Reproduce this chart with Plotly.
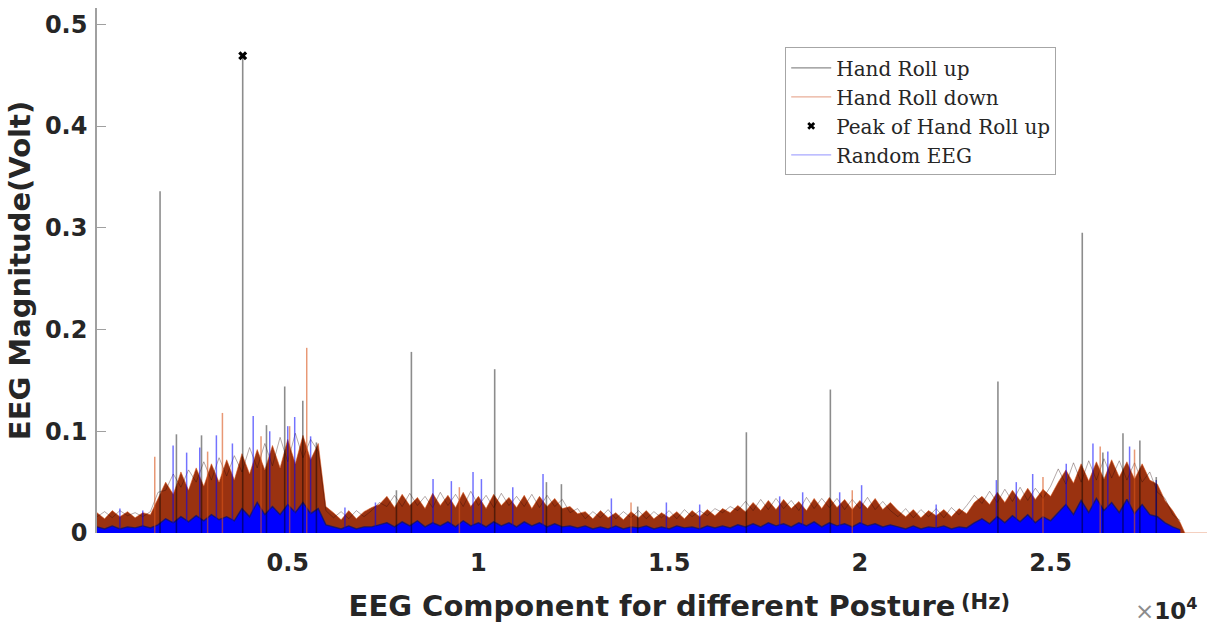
import plotly.graph_objects as go

# ---------------- data ----------------
# frequency grid of the dense spectra (Hz)
freq_hz = list(range(0, 28600, 200))

# Hand Roll down: upper envelope of the dense spectrum (Volt)
roll_down_top = [
    0.020, 0.014, 0.022, 0.016, 0.021, 0.015, 0.020, 0.018,
    0.034,
    0.050, 0.038, 0.060, 0.042,
    0.064, 0.046, 0.068, 0.050, 0.072, 0.052,
    0.078, 0.058, 0.082, 0.062, 0.086,
    0.064, 0.092, 0.068, 0.096, 0.072,
    0.088,
    0.026,
    0.020, 0.013, 0.022, 0.014, 0.021,
    0.025, 0.028,
    0.036, 0.025, 0.038, 0.027, 0.035, 0.024, 0.039, 0.027, 0.037, 0.025, 0.040, 0.026,
    0.036, 0.024, 0.038, 0.027, 0.035, 0.025, 0.037, 0.024, 0.036, 0.026, 0.034, 0.024,
    0.026, 0.019,
    0.021, 0.014, 0.022, 0.015, 0.020, 0.013, 0.021, 0.015, 0.022, 0.014, 0.020, 0.015,
    0.021, 0.014, 0.022, 0.016, 0.023, 0.017,
    0.024, 0.020, 0.027,
    0.021, 0.030, 0.022, 0.032, 0.023, 0.033, 0.024, 0.031, 0.022, 0.034,
    0.024, 0.035, 0.025, 0.033, 0.023, 0.032, 0.024, 0.034, 0.023, 0.030,
    0.022, 0.016, 0.023, 0.015, 0.022, 0.017, 0.023, 0.016, 0.024, 0.019,
    0.030, 0.036, 0.028, 0.040, 0.030, 0.042, 0.032, 0.044, 0.033, 0.043, 0.036,
    0.050, 0.062, 0.049, 0.068, 0.051, 0.070, 0.053, 0.072, 0.055, 0.070, 0.053, 0.068, 0.052,
    0.048, 0.032, 0.022, 0.010,
]
roll_down_tail_hz = [28520, 29100]
roll_down_tail_v = [0.0, 0.0]

# Hand Roll up: upper envelope of the dense spectrum (Volt)
roll_up_top = [
    0.016, 0.021, 0.015, 0.022, 0.017, 0.020, 0.016, 0.021,
    0.040,
    0.042, 0.058, 0.045, 0.062,
    0.050, 0.070, 0.052, 0.074, 0.056, 0.076,
    0.060, 0.084, 0.064, 0.088, 0.066,
    0.094, 0.070, 0.098, 0.074, 0.092,
    0.080,
    0.022,
    0.015, 0.021, 0.014, 0.022, 0.016,
    0.022, 0.030,
    0.026, 0.037, 0.026, 0.039, 0.027, 0.036, 0.025, 0.040, 0.027, 0.038, 0.026, 0.041,
    0.027, 0.037, 0.025, 0.039, 0.027, 0.036, 0.026, 0.038, 0.025, 0.037, 0.026, 0.033,
    0.020, 0.024,
    0.014, 0.021, 0.015, 0.023, 0.014, 0.021, 0.015, 0.022, 0.014, 0.021, 0.015, 0.022,
    0.014, 0.023, 0.016, 0.022, 0.017, 0.024,
    0.020, 0.026, 0.022,
    0.031, 0.022, 0.033, 0.023, 0.034, 0.024, 0.032, 0.022, 0.035, 0.024,
    0.034, 0.025, 0.034, 0.023, 0.033, 0.024, 0.035, 0.023, 0.031, 0.022,
    0.016, 0.024, 0.015, 0.023, 0.016, 0.024, 0.015, 0.025, 0.018, 0.027,
    0.037, 0.029, 0.041, 0.030, 0.043, 0.031, 0.045, 0.032, 0.044, 0.034, 0.046,
    0.063, 0.048, 0.069, 0.050, 0.071, 0.052, 0.073, 0.054, 0.071, 0.052, 0.069, 0.050, 0.060,
    0.040, 0.034, 0.018, 0.012,
]

# Random EEG: level of the dense lower part (Volt)
random_level = [
    0.006, 0.004, 0.007, 0.004, 0.006, 0.005, 0.007, 0.005,
    0.008,
    0.014, 0.010, 0.016, 0.011,
    0.017, 0.012, 0.018, 0.013, 0.016, 0.012,
    0.024, 0.016, 0.030, 0.018, 0.026,
    0.018, 0.028, 0.020, 0.030, 0.019,
    0.024,
    0.008,
    0.006, 0.004, 0.007, 0.004, 0.006,
    0.006, 0.008,
    0.010, 0.006, 0.011, 0.007, 0.012, 0.006, 0.010, 0.007, 0.011, 0.006, 0.012, 0.007,
    0.010, 0.006, 0.011, 0.007, 0.010, 0.006, 0.011, 0.007, 0.010, 0.006, 0.009, 0.006,
    0.007, 0.005,
    0.007, 0.004, 0.006, 0.004, 0.007, 0.004, 0.006, 0.005, 0.007, 0.004, 0.006, 0.004,
    0.007, 0.005, 0.006, 0.004, 0.007, 0.005,
    0.007, 0.005, 0.008,
    0.006, 0.009, 0.006, 0.010, 0.007, 0.009, 0.006, 0.010, 0.007, 0.011,
    0.006, 0.010, 0.007, 0.009, 0.006, 0.010, 0.007, 0.009, 0.006, 0.008,
    0.006, 0.004, 0.007, 0.004, 0.006, 0.005, 0.007, 0.004, 0.006, 0.005,
    0.010, 0.014, 0.009, 0.016, 0.010, 0.017, 0.011, 0.018, 0.010, 0.016, 0.012,
    0.020, 0.028, 0.018, 0.032, 0.020, 0.034, 0.022, 0.030, 0.020, 0.033, 0.019, 0.028, 0.018,
    0.016, 0.010, 0.006, 0.003,
]

# Random EEG: individual peaks rising above the dense band
random_peak_hz = [600, 1200, 1995, 2350, 2693, 3130, 3550, 4095, 4528, 5000, 5183, 5600,
                  6500, 7300, 8810, 9290, 9858, 10078, 10900, 11693, 13485, 14927, 15800,
                  17897, 18500, 19470, 20045, 22000, 23578, 24100, 24530, 25410, 26110,
                  26500, 27070, 27770]
random_peak_v = [0.024, 0.022, 0.086, 0.079, 0.084, 0.096, 0.088, 0.115, 0.100, 0.105, 0.114, 0.095,
                 0.025, 0.030, 0.053, 0.051, 0.060, 0.053, 0.045, 0.058, 0.034, 0.030, 0.028,
                 0.036, 0.040, 0.040, 0.047, 0.028, 0.052, 0.050, 0.058, 0.068, 0.088,
                 0.080, 0.085, 0.052]

# Hand Roll down: individual peaks
roll_down_peak_hz = [1514, 2900, 3288, 4300, 5050, 5498, 9500, 14000, 19800, 24800, 26300, 27200]
roll_down_peak_v = [0.075, 0.080, 0.118, 0.095, 0.105, 0.182, 0.045, 0.030, 0.042, 0.055, 0.085, 0.082]

# Hand Roll up: individual peaks
roll_up_peak_hz = [1653, 2082, 2740, 3820, 4443, 4921, 5395, 5752, 7850, 8242, 10426, 11782,
                   12175, 14175, 17024, 19226, 23619, 25830, 26370, 26897, 27340, 27770]
roll_up_peak_v = [0.336, 0.097, 0.096, 0.469, 0.106, 0.144, 0.130, 0.089, 0.042, 0.178, 0.161, 0.050,
                  0.048, 0.026, 0.099, 0.141, 0.149, 0.295, 0.079, 0.098, 0.091, 0.055]

# Peak of Hand Roll up
peak_hz = [3820]
peak_v = [0.469]

x_tick_vals = [5000, 10000, 15000, 20000, 25000]
x_tick_text = ["0.5", "1", "1.5", "2", "2.5"]
y_tick_vals = [0, 0.1, 0.2, 0.3, 0.4, 0.5]
y_tick_text = ["0", "0.1", "0.2", "0.3", "0.4", "0.5"]


def stems(xs, ys):
    sx, sy = [], []
    for x, y in zip(xs, ys):
        sx += [x, x, None]
        sy += [0, y, None]
    return sx, sy


BOLD = "DejaVu Sans"
fig = go.Figure()

# dense Hand Roll down band
fig.add_trace(go.Scatter(
    x=freq_hz + roll_down_tail_hz, y=roll_down_top + roll_down_tail_v,
    mode="lines", fill="tozeroy", fillcolor="#9a3210",
    line=dict(color="rgba(217,83,25,0.55)", width=1),
    showlegend=False, hoverinfo="skip"))

# dense Hand Roll up envelope (dark streaks mixed into the band)
fig.add_trace(go.Scatter(
    x=freq_hz, y=roll_up_top, mode="lines",
    line=dict(color="rgba(40,10,10,0.35)", width=1),
    showlegend=False, hoverinfo="skip"))

# dense Random EEG lower part
fig.add_trace(go.Scatter(
    x=freq_hz, y=random_level, mode="lines", fill="tozeroy", fillcolor="#0000ff",
    line=dict(color="rgba(20,20,110,0.85)", width=1.4),
    showlegend=False, hoverinfo="skip"))

# peaks
sx, sy = stems(roll_down_peak_hz, roll_down_peak_v)
fig.add_trace(go.Scatter(x=sx, y=sy, mode="lines",
                         line=dict(color="rgba(217,83,25,0.6)", width=1.5),
                         showlegend=False, hoverinfo="skip"))
sx, sy = stems(random_peak_hz, random_peak_v)
fig.add_trace(go.Scatter(x=sx, y=sy, mode="lines",
                         line=dict(color="rgba(0,0,255,0.55)", width=1.5),
                         showlegend=False, hoverinfo="skip"))
sx, sy = stems(roll_up_peak_hz, roll_up_peak_v)
fig.add_trace(go.Scatter(x=sx, y=sy, mode="lines",
                         line=dict(color="rgba(0,0,0,0.45)", width=1.6),
                         showlegend=False, hoverinfo="skip"))

fig.add_trace(go.Scatter(x=peak_hz, y=peak_v, mode="markers",
                         marker=dict(symbol="x", size=8, color="black"),
                         showlegend=False, hoverinfo="skip"))

# legend entries
fig.add_trace(go.Scatter(x=[None], y=[None], mode="lines", name="Hand Roll up",
                         line=dict(color="#8c8c8c", width=1.2)))
fig.add_trace(go.Scatter(x=[None], y=[None], mode="lines", name="Hand Roll down",
                         line=dict(color="#e9ae98", width=1.2)))
fig.add_trace(go.Scatter(x=[None], y=[None], mode="markers", name="Peak of Hand Roll up",
                         marker=dict(symbol="x", size=7, color="black")))
fig.add_trace(go.Scatter(x=[None], y=[None], mode="lines", name="Random EEG",
                         line=dict(color="#a8a8ff", width=1.2)))

fig.update_layout(
    width=1209, height=623,
    margin=dict(l=97, r=2, t=8, b=90),
    paper_bgcolor="white", plot_bgcolor="white",
    showlegend=True,
    legend=dict(x=0.62, y=0.925, xanchor="left", yanchor="top",
                bgcolor="white", bordercolor="#a6a6a6", borderwidth=1,
                font=dict(family="DejaVu Serif", size=20, color="#262626"),
                itemwidth=40),
    xaxis=dict(range=[0, 29100], showgrid=False, zeroline=False, showline=False,
               automargin=False,
               tickvals=x_tick_vals, ticktext=x_tick_text, ticks="",
               ticklabelstandoff=13,
               tickfont=dict(family=BOLD, size=24, color="#262626", weight="bold"),
               title=dict(text="EEG Component for different Posture", standoff=19,
                          font=dict(family=BOLD, size=29, color="#262626", weight="bold"))),
    yaxis=dict(range=[0, 0.516], showgrid=False, zeroline=False, showline=True,
               automargin=False,
               linecolor="#a0a0a0", linewidth=1.5,
               tickvals=y_tick_vals, ticktext=y_tick_text, ticks="inside", ticklen=9,
               tickcolor="#a0a0a0", tickwidth=1.2, ticklabelstandoff=3,
               tickfont=dict(family=BOLD, size=24, color="#262626", weight="bold"),
               title=dict(text="EEG Magnitude(Volt)", standoff=6,
                          font=dict(family=BOLD, size=29, color="#262626", weight="bold"))),
    annotations=[
        dict(text="(Hz)", xref="paper", yref="paper", x=0.80, y=-0.132,
             xanchor="center", yanchor="middle", showarrow=False,
             font=dict(family=BOLD, size=21, color="#262626", weight="bold")),
        dict(text="<span style='font-weight:normal;color:#8c8c8c'>×</span>10<sup>4</sup>",
             xref="paper", yref="paper", x=0.994, y=-0.145,
             xanchor="right", yanchor="middle", showarrow=False,
             font=dict(family=BOLD, size=23, color="#262626", weight="bold")),
    ],
)

fig.write_html("out.html", config={"displayModeBar": False},
               post_script="document.body.style.margin='0px';")
